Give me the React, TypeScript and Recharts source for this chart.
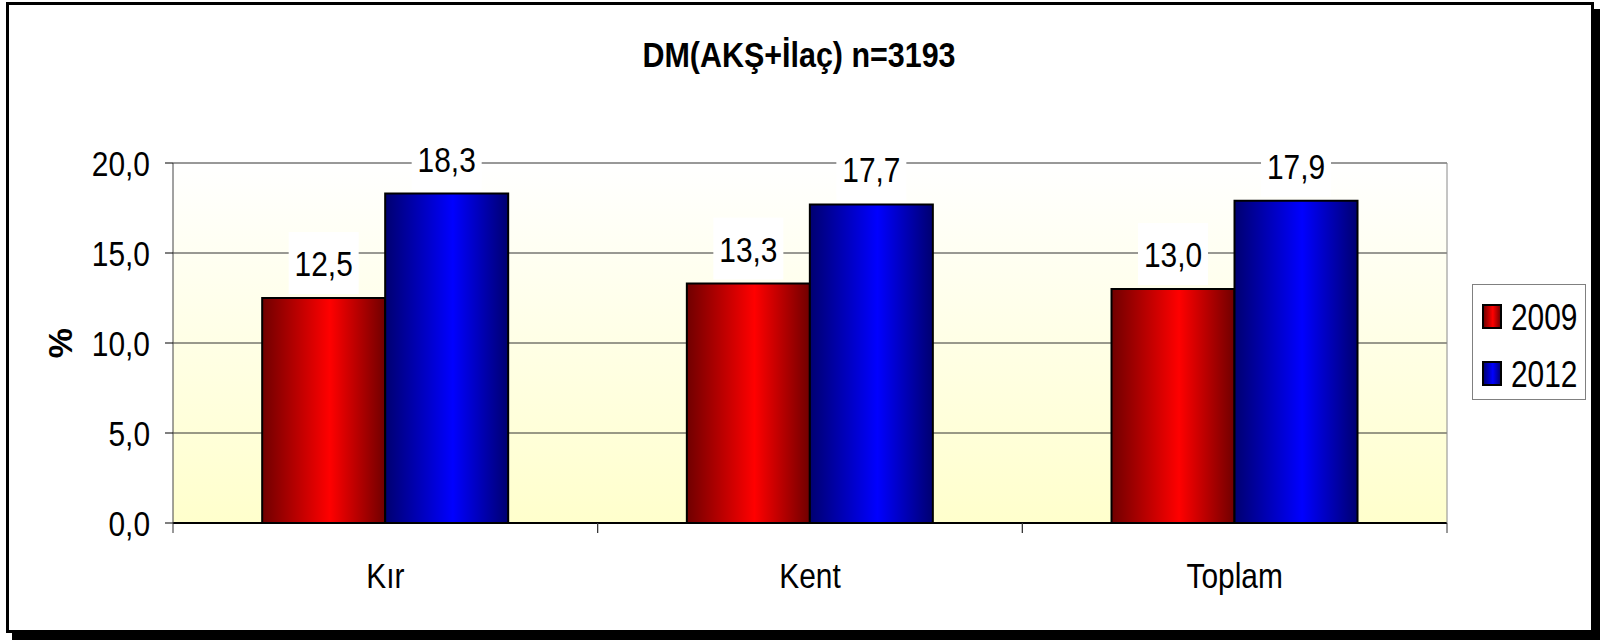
import React from 'react';
import { BarChart, Bar, XAxis, YAxis, CartesianGrid, Legend, LabelList, Label } from 'recharts';

const categories = ['Kır', 'Kent', 'Toplam'];
const values2009 = [12.5, 13.3, 13.0];
const values2012 = [18.3, 17.7, 17.9];
const seriesNames = ['2009', '2012'];
const yTicks = [0, 5, 10, 15, 20];

const data = categories.map((name, i) => ({ name, y2009: values2009[i], y2012: values2012[i] }));

// no Arial Narrow here, so squeeze Liberation Sans horizontally
const FONT = "'Liberation Sans', Arial, sans-serif";
const NARROW = 0.83;
const fmt = (v: number) => Number(v).toFixed(1).replace('.', ',');

const swatchBg = [
  'linear-gradient(to right, #7a0000, #ff0000 55%, #7a0000)',
  'linear-gradient(to right, #00007a, #0000ff 55%, #00007a)',
];

const NarrowText = ({ x, y, anchor = 'middle', dy, children, weight }: any) => (
  <g transform={`translate(${x},${y}) scale(${NARROW},1)`}>
    <text x={0} y={0} dy={dy} textAnchor={anchor} fontFamily={FONT} fontSize={36} fontWeight={weight} fill="#000">
      {children}
    </text>
  </g>
);

const ValueLabel = (props: any) => {
  const vb = props.viewBox || {};
  const x = props.x ?? vb.x;
  const y = props.y ?? vb.y;
  const width = props.width ?? vb.width;
  const cx = x + width / 2;
  return (
    <g>
      <rect x={cx - 35} y={y - 66} width={70} height={62} fill="#ffffff" />
      <NarrowText x={cx} y={y - 22}>{fmt(props.value)}</NarrowText>
    </g>
  );
};

// category label plus the tick marks at both edges of the band
const CatTick = ({ x, y, payload }: any) => {
  const half = payload?.offset ?? 0;
  return (
    <g>
      <line x1={x - half} x2={x - half} y1={y} y2={y + 10} stroke="#333" />
      <line x1={x + half} x2={x + half} y1={y} y2={y + 10} stroke="#333" />
      <NarrowText x={x} y={y + 65}>{payload.value}</NarrowText>
    </g>
  );
};

const YTick = ({ x, y, payload }: any) => (
  <NarrowText x={x} y={y} anchor="end" dy="0.355em">{fmt(payload.value)}</NarrowText>
);

const PercentLabel = (props: any) => {
  const vb = props.viewBox || {};
  const cx = vb.x - 13;
  const cy = vb.y + vb.height / 2;
  return (
    <text
      x={cx}
      y={cy}
      transform={`rotate(-90, ${cx}, ${cy})`}
      textAnchor="middle"
      dominantBaseline="central"
      fontFamily={FONT}
      fontWeight="bold"
      fontSize={34}
      fill="#000"
    >
      %
    </text>
  );
};

const LegendBox = (props: any) => {
  const items = props.payload || [];
  return (
    <div style={{ position: 'relative', width: 114, height: 116, border: '1px solid #808080', boxSizing: 'border-box', background: '#fff' }}>
      {items.map((item: any, i: number) => (
        <React.Fragment key={item.value}>
          <div
            style={{
              position: 'absolute', left: 9, top: 19 + i * 57, width: 16, height: 21,
              border: '2px solid #000', background: swatchBg[i % swatchBg.length],
            }}
          />
          <div
            style={{
              position: 'absolute', left: 38, top: 15 + i * 57, fontFamily: FONT,
              fontSize: 36, lineHeight: '36px', color: '#000',
              transform: `scaleX(${NARROW})`, transformOrigin: 'left center', whiteSpace: 'nowrap',
            }}
          >
            {item.value}
          </div>
        </React.Fragment>
      ))}
    </div>
  );
};

export default function App() {
  return (
    <div style={{ position: 'absolute', left: 0, top: 0, width: 1601, height: 640, background: '#fff' }}>
      <div
        style={{
          position: 'absolute', left: 6, top: 2, width: 1582, height: 625,
          border: '3px solid #000', boxShadow: '6px 7px 0 #000',
        }}
      />
      <div
        style={{
          position: 'absolute', left: 0, top: 37, width: 1598, textAlign: 'center',
          fontFamily: FONT, fontWeight: 'bold', fontSize: 35, lineHeight: '35px', color: '#000',
          transform: 'scaleX(0.87)', whiteSpace: 'nowrap',
        }}
      >
        DM(AKŞ+İlaç) n=3193
      </div>
      <div style={{ position: 'absolute', left: 0, top: 0 }}>
        <BarChart
          width={1601}
          height={640}
          data={data}
          margin={{ top: 163, right: 153, bottom: 116, left: 73 }}
          barCategoryGap="21%"
          barGap={0}
        >
          <defs>
            <linearGradient id="plotBg" x1="0" y1="0" x2="0" y2="1">
              <stop offset="0%" stopColor="#ffffff" />
              <stop offset="100%" stopColor="#ffffcc" />
            </linearGradient>
            <linearGradient id="redGrad" x1="0" y1="0" x2="1" y2="0">
              <stop offset="0%" stopColor="#700000" />
              <stop offset="55%" stopColor="#ff0000" />
              <stop offset="100%" stopColor="#700000" />
            </linearGradient>
            <linearGradient id="blueGrad" x1="0" y1="0" x2="1" y2="0">
              <stop offset="0%" stopColor="#000070" />
              <stop offset="55%" stopColor="#0000ff" />
              <stop offset="100%" stopColor="#000070" />
            </linearGradient>
          </defs>
          <CartesianGrid vertical={false} stroke="#333" fill="url(#plotBg)" fillOpacity={1} />
          <XAxis
            dataKey="name"
            height={1}
            interval={0}
            tickLine={false}
            tickSize={0}
            tickMargin={0}
            axisLine={{ stroke: '#000', strokeWidth: 2 }}
            tick={<CatTick />}
          />
          <YAxis
            domain={[0, 20]}
            ticks={yTicks}
            width={100}
            tickSize={8}
            tickMargin={15}
            tick={<YTick />}
            axisLine={{ stroke: '#444' }}
            tickLine={{ stroke: '#000' }}
          >
            <Label content={<PercentLabel />} />
          </YAxis>
          <YAxis
            yAxisId="right"
            orientation="right"
            domain={[0, 20]}
            width={1}
            tick={false}
            tickLine={false}
            axisLine={{ stroke: '#8a8a8a' }}
          />
          <Legend
            layout="vertical"
            align="center"
            verticalAlign="middle"
            wrapperStyle={{ left: 1472, top: 284, width: 114, height: 116 }}
            content={<LegendBox />}
          />
          <Bar dataKey="y2009" name={seriesNames[0]} fill="url(#redGrad)" stroke="#000" strokeWidth={2} isAnimationActive={false}>
            <LabelList dataKey="y2009" content={<ValueLabel />} />
          </Bar>
          <Bar dataKey="y2012" name={seriesNames[1]} fill="url(#blueGrad)" stroke="#000" strokeWidth={2} isAnimationActive={false}>
            <LabelList dataKey="y2012" content={<ValueLabel />} />
          </Bar>
        </BarChart>
      </div>
    </div>
  );
}
